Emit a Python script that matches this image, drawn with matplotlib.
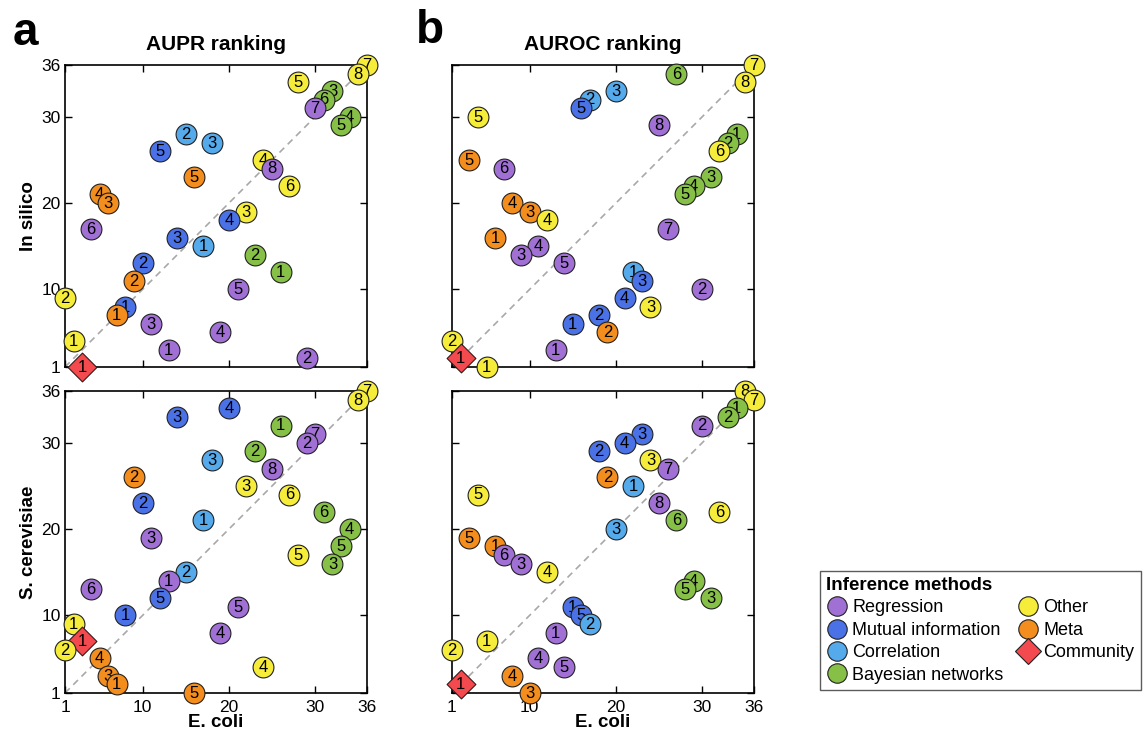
import numpy as np
from matplotlib import pyplot as plt
from matplotlib.lines import Line2D

plt.rcParams['font.family'] = ['Liberation Sans', 'DejaVu Sans']

# method groups, in the order the rank arrays below are listed
groups = ['Regression', 'Mutual information', 'Correlation', 'Bayesian networks',
          'Other', 'Meta', 'Community']
group_sizes = [8, 5, 3, 6, 8, 5, 1]
group_colors = ['#a070d4', '#4a72e6', '#55aaec', '#86c046', '#f6ec3a', '#f38d1e', '#f24a4e']

# ranks (Regression 1-8, MI 1-5, Correlation 1-3, Bayesian 1-6, Other 1-8, Meta 1-5, Community)
ecoli_aupr = [13, 29, 11, 19, 21, 4, 30, 25,
              8, 10, 14, 20, 12,
              17, 15, 18,
              26, 23, 32, 34, 33, 31,
              2, 1, 22, 24, 28, 27, 36, 35,
              7, 9, 6, 5, 16,
              3]
insilico_aupr = [3, 2, 6, 5, 10, 17, 31, 24,
                 8, 13, 16, 18, 26,
                 15, 28, 27,
                 12, 14, 33, 30, 29, 32,
                 4, 9, 19, 25, 34, 22, 36, 35,
                 7, 11, 20, 21, 23,
                 1]
scer_aupr = [14, 30, 19, 8, 11, 13, 31, 27,
             10, 23, 33, 34, 12,
             21, 15, 28,
             32, 29, 16, 20, 18, 22,
             9, 6, 25, 4, 17, 24, 36, 35,
             2, 26, 3, 5, 1,
             7]
ecoli_auroc = [13, 30, 9, 11, 14, 7, 26, 25,
               15, 18, 23, 21, 16,
               22, 17, 20,
               34, 33, 31, 29, 28, 27,
               5, 1, 24, 12, 4, 32, 36, 35,
               6, 19, 10, 8, 3,
               2]
insilico_auroc = [3, 10, 14, 15, 13, 24, 17, 29,
                  6, 7, 11, 9, 31,
                  12, 32, 33,
                  28, 27, 23, 22, 21, 35,
                  1, 4, 8, 18, 30, 26, 36, 34,
                  16, 5, 19, 20, 25,
                  2]
scer_auroc = [8, 32, 16, 5, 4, 17, 27, 23,
              11, 29, 31, 30, 10,
              25, 9, 20,
              34, 33, 12, 14, 13, 21,
              7, 6, 28, 15, 24, 22, 35, 36,
              18, 26, 1, 3, 19,
              2]

ticks = [1, 10, 20, 30, 36]

method_group = np.repeat(np.arange(len(groups)), group_sizes)
method_num = np.concatenate([np.arange(1, n + 1) for n in group_sizes])


def draw_panel(ax, xr, yr, xlabels, ylabels):
    ax.plot([1, 36], [1, 36], ls=(0, (4, 3)), color='#a8a8a8', lw=1.2, zorder=1)
    order = np.argsort(-np.array(yr), kind='stable')
    for k, i in enumerate(order):
        g = method_group[i]
        mk = 'D' if groups[g] == 'Community' else 'o'
        sz = 215 if mk == 'D' else 225
        ax.scatter(xr[i], yr[i], s=sz, marker=mk, c=group_colors[g],
                   edgecolors='#222222', linewidths=0.8, zorder=3 + 2 * k, clip_on=False)
        ax.text(xr[i], yr[i] - 0.05, str(method_num[i]), ha='center', va='center',
                fontsize=12, zorder=4 + 2 * k, clip_on=False)
    ax.set_xlim(1, 36)
    ax.set_ylim(1, 36)
    ax.set_xticks(ticks)
    ax.set_yticks(ticks)
    ax.tick_params(direction='in', length=5, width=1, top=True, right=True,
                   labelsize=12.5, pad=3)
    ax.tick_params(axis='x', pad=5)
    if not xlabels:
        ax.set_xticklabels([])
    if not ylabels:
        ax.set_yticklabels([])
    for sp in ax.spines.values():
        sp.set_linewidth(1.2)


fig = plt.figure(figsize=(11.45, 7.33), dpi=100)
W, H = 1145.0, 733.0
lefts = [65, 452]
tops = [65, 391]
size = 302

axes = {}
for r in range(2):
    for c in range(2):
        ax = fig.add_axes([lefts[c] / W, 1 - (tops[r] + size) / H, size / W, size / H])
        axes[(r, c)] = ax

draw_panel(axes[(0, 0)], ecoli_aupr, insilico_aupr, False, True)
draw_panel(axes[(1, 0)], ecoli_aupr, scer_aupr, True, True)
draw_panel(axes[(0, 1)], ecoli_auroc, insilico_auroc, False, False)
draw_panel(axes[(1, 1)], ecoli_auroc, scer_auroc, True, False)

axes[(0, 0)].set_title('AUPR ranking', fontsize=15, fontweight='bold', pad=11)
axes[(0, 1)].set_title('AUROC ranking', fontsize=15, fontweight='bold', pad=11)
axes[(0, 0)].set_ylabel('In silico', fontsize=13.5, fontweight='bold', labelpad=3)
axes[(1, 0)].set_ylabel('S. cerevisiae', fontsize=13.5, fontweight='bold', labelpad=3)
axes[(1, 0)].set_xlabel('E. coli', fontsize=13.5, fontweight='bold', labelpad=-1)
axes[(1, 1)].set_xlabel('E. coli', fontsize=13.5, fontweight='bold', labelpad=-1)

fig.text(25 / W, 1 - 33 / H, 'a', fontsize=33, fontweight='bold', ha='center', va='center')
fig.text(430 / W, 1 - 31 / H, 'b', fontsize=33, fontweight='bold', ha='center', va='center')

handles = []
for g, name in enumerate(groups):
    mk = 'D' if name == 'Community' else 'o'
    handles.append(Line2D([], [], ls='none', marker=mk, markersize=14 if mk == 'o' else 13,
                          markerfacecolor=group_colors[g], markeredgecolor='#222222',
                          markeredgewidth=0.8, label=name))
leg = fig.legend(handles=handles, ncol=2, loc='lower left', bbox_to_anchor=(820 / W, 43 / H),
                 borderaxespad=0, title='Inference methods', fontsize=13, frameon=True,
                 fancybox=False, edgecolor='#333333', handletextpad=0.25, columnspacing=0.75,
                 labelspacing=0.3, borderpad=0.35, handlelength=1.2, alignment='left')
leg.get_title().set_fontweight('bold')
leg.get_title().set_fontsize(13.5)
leg.get_frame().set_linewidth(1.0)

plt.savefig('out.png', dpi=100)
plt.close()
